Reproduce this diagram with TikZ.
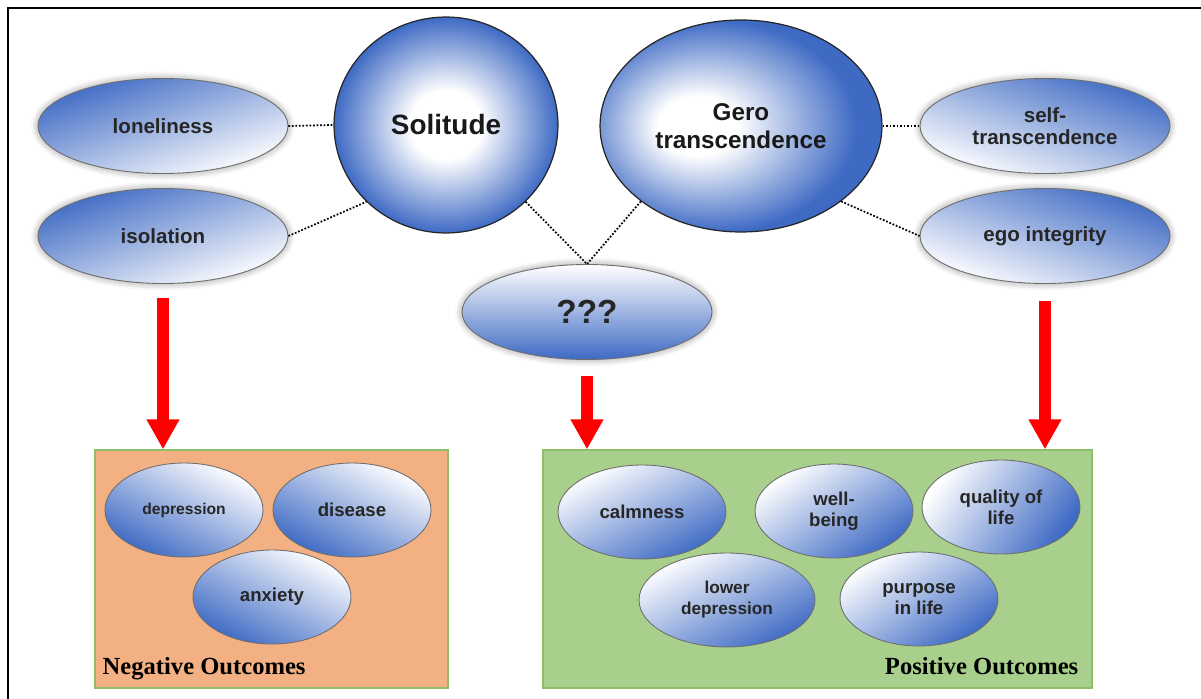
\documentclass[tikz,border=0pt]{standalone}
\usepackage{fontspec}
\setsansfont{Liberation Sans}
\newfontfamily\outfont{Liberation Serif}
\usetikzlibrary{shapes.geometric,arrows.meta,shadows.blur}
\definecolor{mblue}{RGB}{62,106,196}
\definecolor{negfill}{RGB}{243,176,130}
\definecolor{posfill}{RGB}{168,208,140}
\definecolor{boxline}{RGB}{140,192,104}
\definecolor{rimgray}{RGB}{110,110,110}
\pgfdeclareradialshading{globe}{\pgfpoint{0bp}{0bp}}{color(0bp)=(white); color(8bp)=(white); color(25bp)=(mblue); color(50bp)=(mblue)}
\pgfdeclareradialshading{globeleft}{\pgfpoint{-9bp}{0bp}}{color(0bp)=(white); color(7bp)=(white); color(25bp)=(mblue); color(50bp)=(mblue)}
\begin{document}
\begin{tikzpicture}[x=0.02cm, y=-0.02cm,
	blob/.style={ellipse, inner sep=0pt, draw=rimgray, line width=0.5pt, top color=white, bottom color=mblue, align=center, text=black!85},
	leaf/.style={blob, minimum width=5cm, minimum height=1.9cm, font=\sffamily\bfseries\fontsize{11.7}{12.5}\selectfont, blur shadow={shadow xshift=0pt, shadow yshift=0pt, shadow blur radius=4pt, shadow opacity=45}},
	pill/.style={blob, minimum width=3.16cm, minimum height=1.88cm, font=\sffamily\bfseries\fontsize{10.6}{12}\selectfont},
	hub/.style={ellipse, shade, inner sep=0pt, draw=black!85, line width=0.7pt, align=center, text=black!90},
	link/.style={densely dotted, line width=1pt},
	redarrow/.style={draw=red, line width=0.25cm, -{Triangle[length=0.6cm, width=0.62cm]}},
	outcome/.style={draw=boxline, line width=0.8pt, minimum height=4.76cm, inner sep=0pt},
	outlabel/.style={font=\outfont\bfseries\fontsize{14}{16}\selectfont, inner sep=0pt}
]
	\useasboundingbox (0,0) rectangle (1201,699);
	\draw[line width=1.2pt] (8,720) |- (1220,8);

	\node[leaf, shading angle=-160] (lone) at (163,126) {loneliness};
	\node[leaf, shading angle=-160] (iso) at (163,236) {isolation};
	\node[leaf, shading angle=160] (selft) at (1045,126) {self-\\transcendence};
	\node[leaf, shading angle=160] (ego) at (1045,236) {ego integrity};
	\node[leaf, shading angle=0, font=\sffamily\bfseries\fontsize{19}{20}\selectfont] (qqq) at (587,312) {???};

	\node[hub, shading=globe, minimum width=4.48cm, minimum height=4.32cm, font=\sffamily\bfseries\fontsize{15.9}{18}\selectfont] (sol) at (446,125) {Solitude};
	\node[hub, shading=globeleft, minimum width=5.64cm, minimum height=4.24cm, font=\sffamily\bfseries\fontsize{13.8}{16}\selectfont] (gero) at (741,126) {Gero\\transcendence};

	\draw[link] (lone.east) -- (sol.west);
	\draw[link] (iso.east) -- (sol.south west);
	\draw[link] (sol.south east) -- (qqq.north);
	\draw[link] (gero.south west) -- (qqq.north);
	\draw[link] (gero.east) -- (selft.west);
	\draw[link] (gero.south east) -- (ego.west);

	\node[outcome, fill=negfill, minimum width=7.06cm] (neg) at (271.5,569) {};
	\node[outcome, fill=posfill, minimum width=10.98cm] (pos) at (817.5,569) {};

	\draw[redarrow] ([yshift=-0.28cm]iso.south) -- (iso.south |- neg.north);
	\draw[redarrow] ([yshift=-0.32cm]qqq.south) -- (qqq.south |- pos.north);
	\draw[redarrow] ([yshift=-0.34cm]ego.south) -- (ego.south |- pos.north);

	\node[pill, shading angle=-28, font=\sffamily\bfseries\fontsize{8.9}{10}\selectfont] (dep) at (184,510) {depression};
	\node[pill, shading angle=-28] (dis) at (352,510) {disease};
	\node[pill, shading angle=-28] (anx) at (272,597) {anxiety};

	\node[pill, shading angle=28, minimum width=3.36cm] (calm) at (642,512) {calmness};
	\node[pill, shading angle=35] (well) at (834,511) {well-\\being};
	\node[pill, shading angle=55] (qual) at (1001,507) {quality of\\life};
	\node[pill, shading angle=28, minimum width=3.52cm, font=\sffamily\bfseries\fontsize{9.8}{12}\selectfont] (lowdep) at (727,600) {lower\\depression};
	\node[pill, shading angle=35] (purp) at (919,599) {purpose\\in life};

	\node[outlabel, anchor=base west] (neglbl) at ([shift={(8,-14)}]neg.south west) {Negative Outcomes};
	\node[outlabel, anchor=base east] (poslbl) at ([shift={(-14,-14)}]pos.south east) {Positive Outcomes};
\end{tikzpicture}
\end{document}
